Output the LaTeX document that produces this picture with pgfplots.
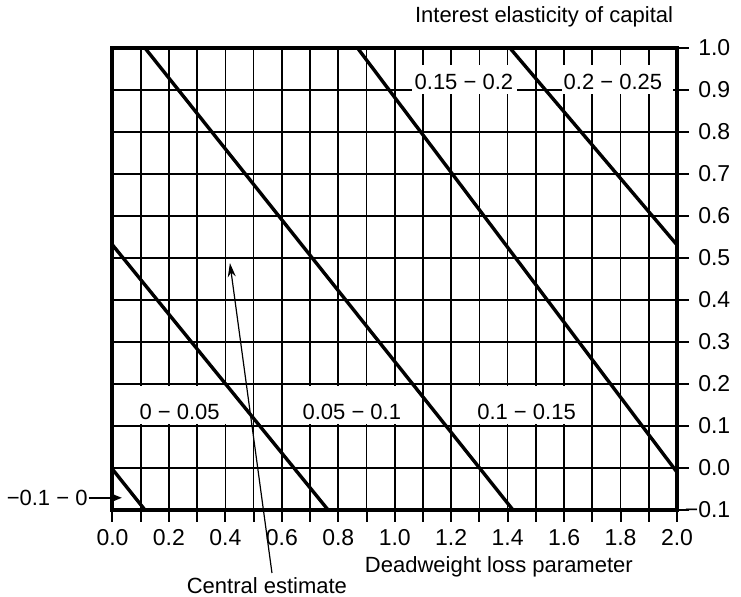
\documentclass[border=0pt]{standalone}
\usepackage{fontspec}
\setmainfont{Liberation Sans}
\usepackage{pgfplots}
\pgfplotsset{compat=1.18}
\usetikzlibrary{arrows.meta}
\begin{document}
\fontsize{11pt}{13pt}\selectfont
\begin{tikzpicture}
\useasboundingbox (-56.25pt,-43.5pt) rectangle (314.25pt,255pt);
\begin{axis}[
  at={(0,0)}, anchor=south west,
  scale only axis, width=282.25pt, height=231pt,
  xmin=0, xmax=2, ymin=-0.1, ymax=1.0,
  xtick={0,0.2,0.4,0.6,0.8,1.0,1.2,1.4,1.6,1.8,2.0},
  xticklabels={0.0,0.2,0.4,0.6,0.8,1.0,1.2,1.4,1.6,1.8,2.0},
  minor xtick={0.1,0.3,0.5,0.7,0.9,1.1,1.3,1.5,1.7,1.9},
  ytick={-0.1,0,0.1,0.2,0.3,0.4,0.5,0.6,0.7,0.8,0.9,1.0},
  yticklabels={−0.1,0.0,0.1,0.2,0.3,0.4,0.5,0.6,0.7,0.8,0.9,1.0},
  grid=both,
  major grid style={black, line width=0.85pt},
  minor grid style={black, line width=0.85pt},
  tick align=outside,
  xtick pos=bottom, ytick pos=right, yticklabel pos=right,
  major tick length=6pt, minor tick length=6pt,
  tick style={black, line width=1pt},
  axis line style={black, line width=2pt},
  tick label style={font=\fontsize{11.5pt}{13pt}\selectfont},
  yticklabel style={anchor=east, xshift=24.5pt},
  clip=false,
]
% white label boxes
\fill[white] (axis cs:1.061,0.89) rectangle (axis cs:1.433,0.96);
\fill[white] (axis cs:1.593,0.89) rectangle (axis cs:1.985,0.96);
\fill[white] (axis cs:0.07,0.104) rectangle (axis cs:0.42,0.196);
\fill[white] (axis cs:0.64,0.104) rectangle (axis cs:1.05,0.196);
\fill[white] (axis cs:1.26,0.104) rectangle (axis cs:1.67,0.196);

% boundary lines
\addplot[black, line width=1.7pt] coordinates {(0,-0.003) (0.115,-0.1)};
\addplot[black, line width=1.7pt] coordinates {(0,0.531) (0.764,-0.1)};
\addplot[black, line width=1.7pt] coordinates {(0.115,1.0) (1.419,-0.1)};
\addplot[black, line width=1.7pt] coordinates {(0.868,1.0) (2.0,-0.01)};
\addplot[black, line width=1.7pt] coordinates {(1.408,1.0) (2.0,0.531)};

% region labels
\node at (axis cs:1.245,0.919) {0.15 − 0.2};
\node at (axis cs:1.773,0.919) {0.2 − 0.25};
\node at (axis cs:0.238,0.133) {0 − 0.05};
\node at (axis cs:0.848,0.133) {0.05 − 0.1};
\node at (axis cs:1.467,0.133) {0.1 − 0.15};

\node[anchor=east, inner sep=0pt] at (axis cs:-0.087,-0.071) {−0.1 − 0};
\draw[line width=0.9pt, -{Stealth[length=5pt,width=4pt]}] (axis cs:-0.085,-0.071) -- (axis cs:0.033,-0.071);

\draw[line width=0.6pt, -{Stealth[length=7pt,width=4pt]}] (axis cs:0.565,-0.25) -- (axis cs:0.416,0.488);
\node at (axis cs:0.547,-0.279) {Central estimate};

\node at (axis cs:1.369,-0.236) {Deadweight loss parameter};
\node at (axis cs:1.529,1.074) {Interest elasticity of capital};
\end{axis}
\end{tikzpicture}
\end{document}
